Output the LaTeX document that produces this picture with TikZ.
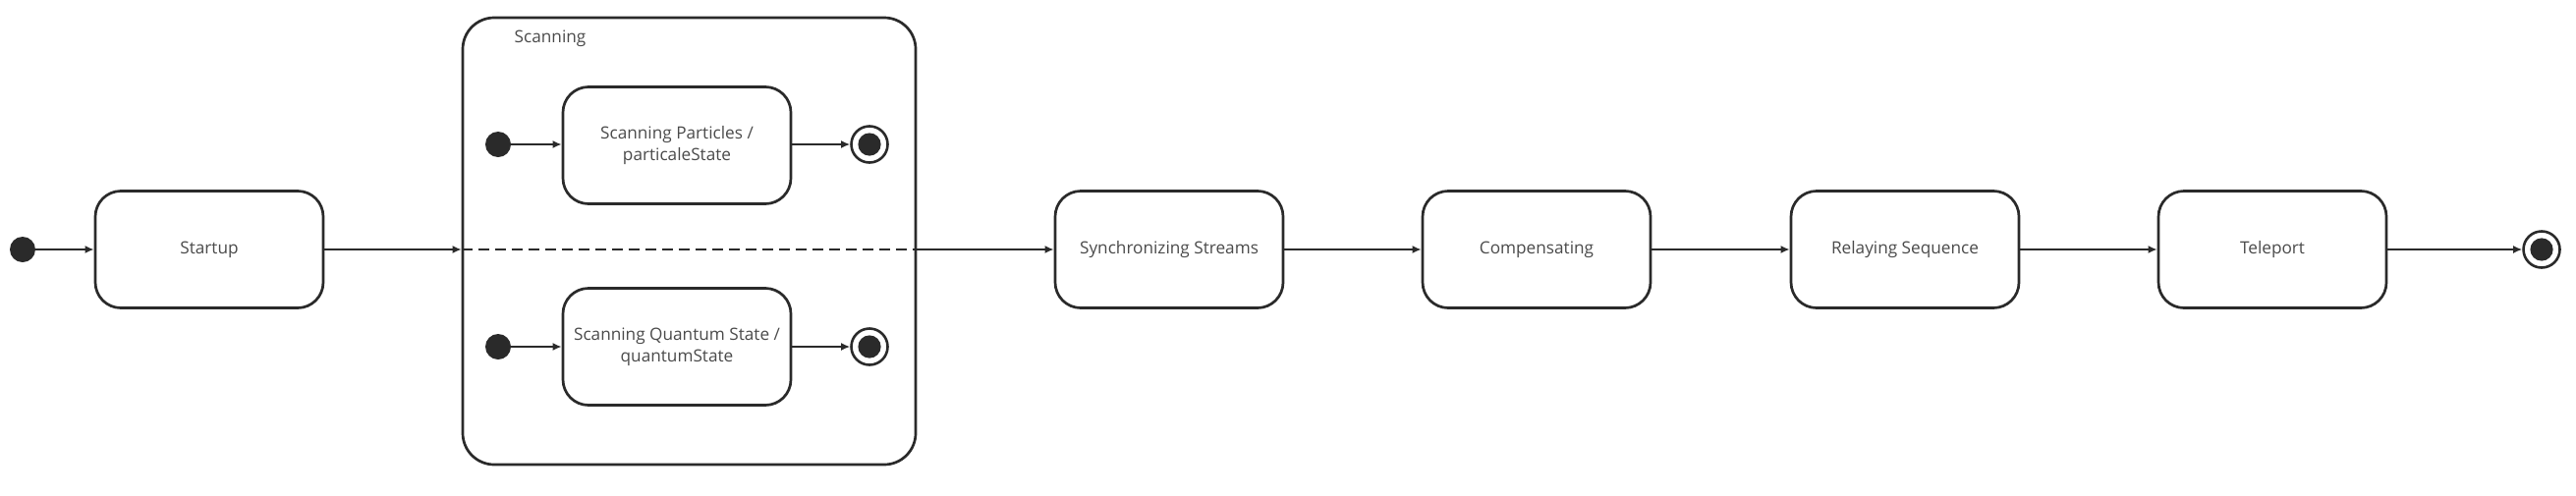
\documentclass[tikz,border=0pt]{standalone}
\usepackage{fontspec}
\setmainfont{Open Sans}
\usetikzlibrary{arrows.meta}
\definecolor{txt}{HTML}{4A4A4A}
\definecolor{ln}{HTML}{2A2A2A}
\begin{document}
\begin{tikzpicture}[x=0.5pt,y=-0.5pt,
  every node/.style={font=\fontsize{8.6}{11}\selectfont, text=txt},
  state/.style={draw=ln, line width=1.35pt, rounded corners=13pt, minimum width=116pt, minimum height=59.5pt, align=center, inner sep=0pt},
  initst/.style={circle, fill=ln, minimum size=13pt, inner sep=0pt},
  finalst/.style={circle, draw=ln, line width=1.3pt, minimum size=18.5pt, inner sep=0pt,
     path picture={\fill[ln] (path picture bounding box.center) circle (5.8pt);}},
  composite/.style={draw=ln, line width=1.35pt, rounded corners=16pt, minimum width=230.5pt, minimum height=227.5pt, inner sep=0pt},
  trans/.style={draw=ln, line width=1.35pt, -{Latex[length=4.5pt,width=4pt]}},
  region/.style={draw=ln, line width=1.35pt, dash pattern=on 5.5pt off 3pt}
]
\useasboundingbox (0,0) rectangle (2622,504);

\node[initst] (i0) at (23,254) {};
\node[state] (startup) at (213,254) {Startup};

\node[composite] (scan) at (701.5,245.5) {};
\node (scanlbl) at (560,39) {Scanning};

\node[initst] (i1) at (507,147) {};
\node[state] (sp) at (689,148) {Scanning Particles /\\particaleState};
\node[finalst] (f1) at (885,147) {};

\node[initst] (i2) at (507,353) {};
\node[state] (sq) at (689,353) {Scanning Quantum State /\\quantumState};
\node[finalst] (f2) at (885,353) {};

\node[state] (sync) at (1190,254) {Synchronizing Streams};
\node[state] (comp) at (1564,254) {Compensating};
\node[state] (relay) at (1939,254) {Relaying Sequence};
\node[state] (tele) at (2313,254) {Teleport};
\node[finalst] (fend) at (2587,254) {};

\draw[trans] (i0) -- (startup);
\draw[trans] (startup.east) -- (startup.east -| scan.west);
\draw[region] (startup.east -| scan.west) -- (startup.east -| scan.east);
\draw[trans] (sync.west -| scan.east) -- (sync.west);

\draw[trans] (i1) -- (i1 -| sp.west);
\draw[trans] (f1 -| sp.east) -- (f1);
\draw[trans] (i2) -- (i2 -| sq.west);
\draw[trans] (f2 -| sq.east) -- (f2);

\draw[trans] (sync) -- (comp);
\draw[trans] (comp) -- (relay);
\draw[trans] (relay) -- (tele);
\draw[trans] (tele) -- (fend);
\end{tikzpicture}
\end{document}
